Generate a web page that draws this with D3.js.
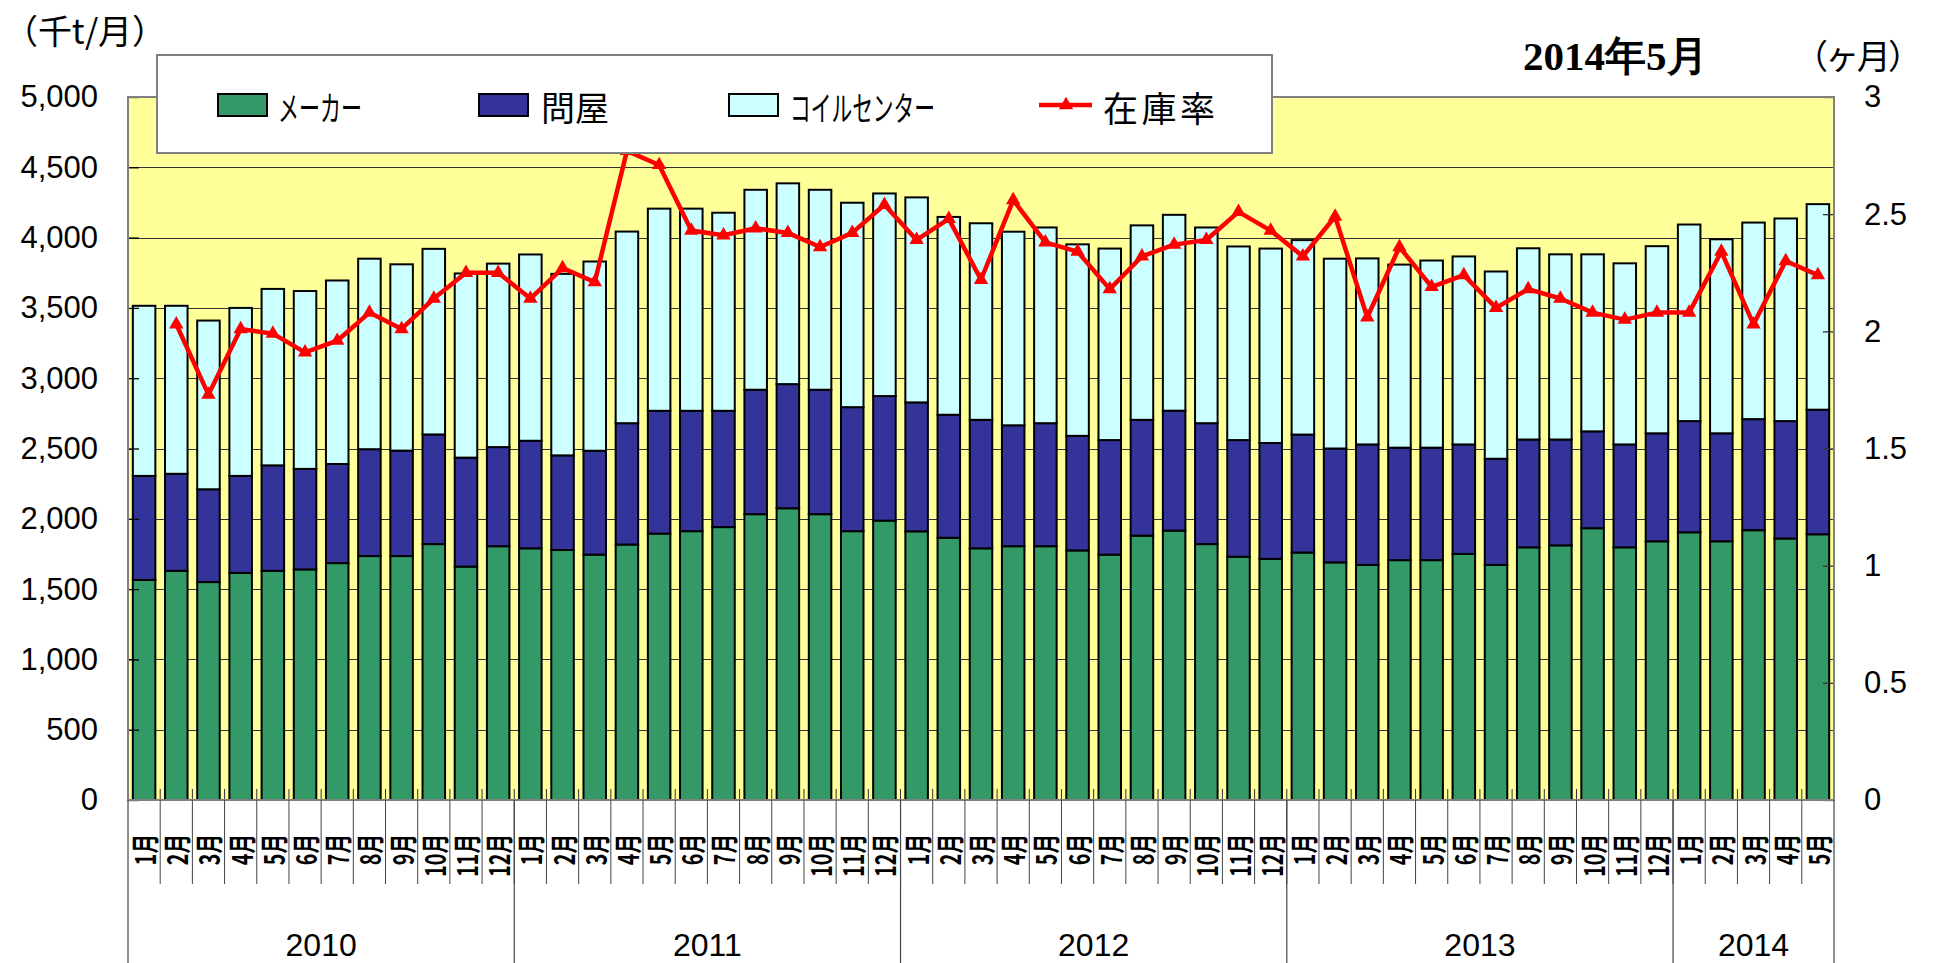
<!DOCTYPE html>
<html>
<head>
<meta charset="utf-8">
<script src="https://cdn.jsdelivr.net/npm/d3@7"></script>
<style>
  html, body { margin: 0; padding: 0; background: #fff; }
  body { width: 1937px; height: 963px; overflow: hidden; }
  svg { display: block; }
  text { text-spacing-trim: space-all; }
</style>
</head>
<body>
<script>
const width = 1937;
const height = 963;

// categories
const years = ["2010", "2011", "2012", "2013", "2014"];
const monthsPerYear = [12, 12, 12, 12, 5];
const monthLabels = [
  "1月","2月","3月","4月","5月","6月","7月","8月","9月","10月","11月","12月",
  "1月","2月","3月","4月","5月","6月","7月","8月","9月","10月","11月","12月",
  "1月","2月","3月","4月","5月","6月","7月","8月","9月","10月","11月","12月",
  "1月","2月","3月","4月","5月","6月","7月","8月","9月","10月","11月","12月",
  "1月","2月","3月","4月","5月"
];

// series (千t/月)
const maker = [
  1565, 1630, 1550, 1615, 1630, 1640, 1685, 1735, 1735, 1820, 1660, 1805,
  1790, 1778, 1745, 1817, 1895, 1912, 1941, 2033, 2075, 2033, 1912, 1987,
  1911, 1865, 1790, 1805, 1805, 1775, 1745, 1880, 1916, 1820, 1730, 1715,
  1760, 1690, 1672, 1706, 1706, 1750, 1672, 1797, 1811, 1933, 1797, 1840,
  1904, 1840, 1919, 1860, 1890
];
const tonya = [
  740, 690, 660, 690, 750, 715, 705, 760, 750, 780, 775, 705,
  765, 673, 739, 863, 873, 856, 827, 885, 883, 885, 882, 886,
  917, 875, 914, 860, 875, 815, 815, 824, 853, 860, 830, 824,
  839, 810, 857, 800, 800, 779, 755, 767, 753, 689, 732, 768,
  791, 768, 790, 835, 886
];
const coil = [
  1210, 1195, 1200, 1195, 1255, 1265, 1305, 1355, 1325, 1320, 1310, 1305,
  1325, 1291, 1346, 1363, 1438, 1438, 1409, 1422, 1428, 1422, 1454, 1441,
  1458, 1407, 1398, 1377, 1392, 1362, 1362, 1383, 1393, 1392, 1377, 1383,
  1383, 1350, 1323, 1302, 1331, 1337, 1332, 1360, 1317, 1259, 1288, 1331,
  1398, 1380, 1398, 1441, 1462
];
// 在庫率 (ヶ月)
const rate = [
  null, 2.03, 1.73, 2.01, 1.99, 1.91, 1.96, 2.08, 2.01, 2.14, 2.25, 2.25,
  2.14, 2.27, 2.21, 2.77, 2.71, 2.43, 2.41, 2.44, 2.42, 2.36, 2.42, 2.54,
  2.39, 2.48, 2.22, 2.56, 2.38, 2.34, 2.18, 2.32, 2.37, 2.39, 2.51, 2.43,
  2.32, 2.49, 2.06, 2.36, 2.19, 2.24, 2.10, 2.18, 2.14, 2.08, 2.05, 2.08,
  2.08, 2.34, 2.03, 2.30, 2.24
];

const leftTicks = [0, 500, 1000, 1500, 2000, 2500, 3000, 3500, 4000, 4500, 5000];
const rightTicks = [0, 0.5, 1, 1.5, 2, 2.5, 3];
const seriesKeys = ["maker", "tonya", "coil"];
const seriesNames = ["メーカー", "問屋", "コイルセンター"];
const lineName = "在庫率";
const title = "2014年5月";
const leftUnit = "（千t/月）";
const rightUnit = "（ヶ月）";

const colors = { maker: "#339966", tonya: "#333399", coil: "#CCFFFF" };
const JP = "'Noto Sans CJK JP', sans-serif";
const NUM = "'Liberation Sans', Arial, sans-serif";

const plot = { left: 128, right: 1834, top: 97, bottom: 800 };

const table = maker.map((m, i) => ({ i, maker: m, tonya: tonya[i], coil: coil[i] }));

const x = d3.scaleBand()
  .domain(d3.range(maker.length))
  .range([plot.left, plot.right])
  .paddingInner(0.3)
  .paddingOuter(0.15);
const y = d3.scaleLinear().domain([0, 5000]).range([plot.bottom, plot.top]);
const y2 = d3.scaleLinear().domain([0, 3]).range([plot.bottom, plot.top]);
const cx = (i) => x(i) + x.bandwidth() / 2;
const step = x.step();

const svg = d3.create("svg")
  .attr("width", width)
  .attr("height", height)
  .attr("viewBox", [0, 0, width, height]);
document.body.appendChild(svg.node());

// plot background
svg.append("rect")
  .attr("x", plot.left).attr("y", plot.top)
  .attr("width", plot.right - plot.left)
  .attr("height", plot.bottom - plot.top)
  .attr("fill", "#FFFF99");

// gridlines
svg.append("g")
  .selectAll("line")
  .data(leftTicks.slice(1, -1))
  .join("line")
  .attr("x1", plot.left).attr("x2", plot.right)
  .attr("y1", (d) => Math.round(y(d)) + 0.5)
  .attr("y2", (d) => Math.round(y(d)) + 0.5)
  .attr("stroke", "#333")
  .attr("stroke-width", 1);

// stacked bars
const stack = d3.stack().keys(seriesKeys)(table);
svg.append("g")
  .selectAll("g")
  .data(stack)
  .join("g")
  .attr("fill", (s) => colors[s.key])
  .selectAll("rect")
  .data((s) => s)
  .join("rect")
  .attr("x", (d) => x(d.data.i))
  .attr("y", (d) => y(d[1]))
  .attr("width", x.bandwidth())
  .attr("height", (d) => y(d[0]) - y(d[1]))
  .attr("stroke", "#000")
  .attr("stroke-width", 2);

// inner ticks on both value axes
svg.append("g")
  .attr("transform", `translate(${plot.left},0)`)
  .call(d3.axisRight(y).tickValues(leftTicks).tickSize(11).tickFormat(""))
  .call((g) => g.select(".domain").remove())
  .selectAll("line").attr("stroke", "#000").attr("stroke-width", 1.3);
svg.append("g")
  .attr("transform", `translate(${plot.right},0)`)
  .call(d3.axisLeft(y2).tickValues(rightTicks).tickSize(11).tickFormat(""))
  .call((g) => g.select(".domain").remove())
  .selectAll("line").attr("stroke", "#333").attr("stroke-width", 1.3);

// month boundary ticks inside plot bottom
svg.append("g")
  .selectAll("line")
  .data(d3.range(1, maker.length))
  .join("line")
  .attr("x1", (i) => plot.left + i * step)
  .attr("x2", (i) => plot.left + i * step)
  .attr("y1", plot.bottom - 11)
  .attr("y2", plot.bottom)
  .attr("stroke", "#333")
  .attr("stroke-width", 1);

// plot border
svg.append("rect")
  .attr("x", plot.left).attr("y", plot.top)
  .attr("width", plot.right - plot.left)
  .attr("height", plot.bottom - plot.top)
  .attr("fill", "none")
  .attr("stroke", "#808080")
  .attr("stroke-width", 2);

// inventory ratio line
const line = d3.line()
  .defined((d) => d != null)
  .x((d, i) => cx(i))
  .y((d) => y2(d));
svg.append("path")
  .datum(rate)
  .attr("fill", "none")
  .attr("stroke", "#FF0000")
  .attr("stroke-width", 4.5)
  .attr("stroke-linejoin", "round")
  .attr("d", line);
svg.append("g")
  .selectAll("path")
  .data(rate.map((v, i) => ({ v, i })).filter((d) => d.v != null))
  .join("path")
  .attr("transform", (d) => `translate(${cx(d.i)},${y2(d.v)})`)
  .attr("d", d3.symbol(d3.symbolTriangle, 90))
  .attr("fill", "#FF0000");

// left axis labels
svg.append("g")
  .attr("transform", `translate(${plot.left},0)`)
  .call(d3.axisLeft(y).tickValues(leftTicks).tickSize(0).tickPadding(30).tickFormat(d3.format(",")))
  .call((g) => g.select(".domain").remove())
  .selectAll("text")
  .attr("font-family", NUM)
  .attr("font-size", 31)
  .attr("fill", "#000");

// right axis labels
svg.append("g")
  .attr("transform", `translate(${plot.right},0)`)
  .call(d3.axisRight(y2).tickValues(rightTicks).tickSize(0).tickPadding(30).tickFormat((d) => String(d)))
  .call((g) => g.select(".domain").remove())
  .selectAll("text")
  .attr("font-family", NUM)
  .attr("font-size", 31)
  .attr("fill", "#000");

// category area below plot
const below = svg.append("g");
below.selectAll("line.m")
  .data(d3.range(1, maker.length))
  .join("line")
  .attr("class", "m")
  .attr("x1", (i) => plot.left + i * step)
  .attr("x2", (i) => plot.left + i * step)
  .attr("y1", plot.bottom)
  .attr("y2", 884)
  .attr("stroke", "#444")
  .attr("stroke-width", 1);

const yearStarts = d3.cumsum([0, ...monthsPerYear]);
below.selectAll("line.y")
  .data(yearStarts)
  .join("line")
  .attr("class", "y")
  .attr("x1", (k) => plot.left + k * step)
  .attr("x2", (k) => plot.left + k * step)
  .attr("y1", plot.bottom)
  .attr("y2", height)
  .attr("stroke", "#444")
  .attr("stroke-width", 1.2);

// month labels read bottom-to-top, "月" at the top edge; glyphs are tall and narrow
const labelTop = 834;
below.selectAll("text.m")
  .data(monthLabels)
  .join("text")
  .attr("class", "m")
  .attr("text-anchor", "start")
  .attr("dominant-baseline", "central")
  .attr("font-family", JP)
  .attr("font-weight", "bold")
  .attr("font-size", 28)
  .attr("fill", "#000")
  .text((d) => d)
  .each(function (d, i) {
    const len = this.getComputedTextLength() * 0.7;
    d3.select(this)
      .attr("textLength", len)
      .attr("lengthAdjust", "spacingAndGlyphs")
      .attr("transform", `translate(${cx(i)},${labelTop + len}) rotate(-90)`);
  });

below.selectAll("text.y")
  .data(years)
  .join("text")
  .attr("class", "y")
  .attr("x", (d, k) => plot.left + (yearStarts[k] + monthsPerYear[k] / 2) * step)
  .attr("y", 945)
  .attr("text-anchor", "middle")
  .attr("dominant-baseline", "central")
  .attr("font-family", NUM)
  .attr("font-size", 32)
  .attr("fill", "#000")
  .text((d) => d);

// legend
const legend = svg.append("g");
legend.append("rect")
  .attr("x", 157).attr("y", 55)
  .attr("width", 1115).attr("height", 98)
  .attr("fill", "#fff")
  .attr("stroke", "#808080")
  .attr("stroke-width", 2);

const legendItems = [
  { key: "maker", name: seriesNames[0], sx: 218, tx: 278, tw: 84 },
  { key: "tonya", name: seriesNames[1], sx: 479, tx: 541, tw: null },
  { key: "coil", name: seriesNames[2], sx: 729, tx: 790, tw: 145 },
];
legend.selectAll("rect.sw")
  .data(legendItems)
  .join("rect")
  .attr("class", "sw")
  .attr("x", (d) => d.sx).attr("y", 94)
  .attr("width", 49).attr("height", 22)
  .attr("fill", (d) => colors[d.key])
  .attr("stroke", "#000")
  .attr("stroke-width", 2);
legend.selectAll("text.lt")
  .data(legendItems)
  .join("text")
  .attr("class", "lt")
  .attr("x", (d) => d.tx).attr("y", 106)
  .attr("dominant-baseline", "central")
  .attr("font-family", JP)
  .attr("font-size", 34)
  .attr("fill", "#000")
  .each(function (d) {
    if (d.tw) d3.select(this).attr("textLength", d.tw).attr("lengthAdjust", "spacingAndGlyphs");
  })
  .text((d) => d.name);

legend.append("line")
  .attr("x1", 1039).attr("x2", 1092)
  .attr("y1", 105).attr("y2", 105)
  .attr("stroke", "#FF0000").attr("stroke-width", 4.5);
legend.append("path")
  .attr("transform", "translate(1066,105)")
  .attr("d", d3.symbol(d3.symbolTriangle, 90))
  .attr("fill", "#FF0000");
legend.append("text")
  .attr("x", 1103).attr("y", 106)
  .attr("dominant-baseline", "central")
  .attr("font-family", JP)
  .attr("font-size", 35)
  .attr("textLength", 112)
  .attr("lengthAdjust", "spacing")
  .attr("fill", "#000")
  .text(lineName);

// titles and units
svg.append("text")
  .attr("x", 4).attr("y", 29)
  .attr("dominant-baseline", "central")
  .attr("font-family", JP)
  .attr("font-size", 34)
  .attr("textLength", 162)
  .attr("lengthAdjust", "spacing")
  .text(leftUnit);

svg.append("text")
  .attr("x", 1794).attr("y", 54)
  .attr("dominant-baseline", "central")
  .attr("font-family", JP)
  .attr("font-size", 34)
  .attr("textLength", 128)
  .attr("lengthAdjust", "spacing")
  .text(rightUnit);

svg.append("text")
  .attr("x", 1523).attr("y", 70)
  .attr("font-family", "'Liberation Serif', 'Times New Roman', serif")
  .attr("font-weight", "bold")
  .attr("font-size", 41)
  .text(title);
</script>
</body>
</html>
